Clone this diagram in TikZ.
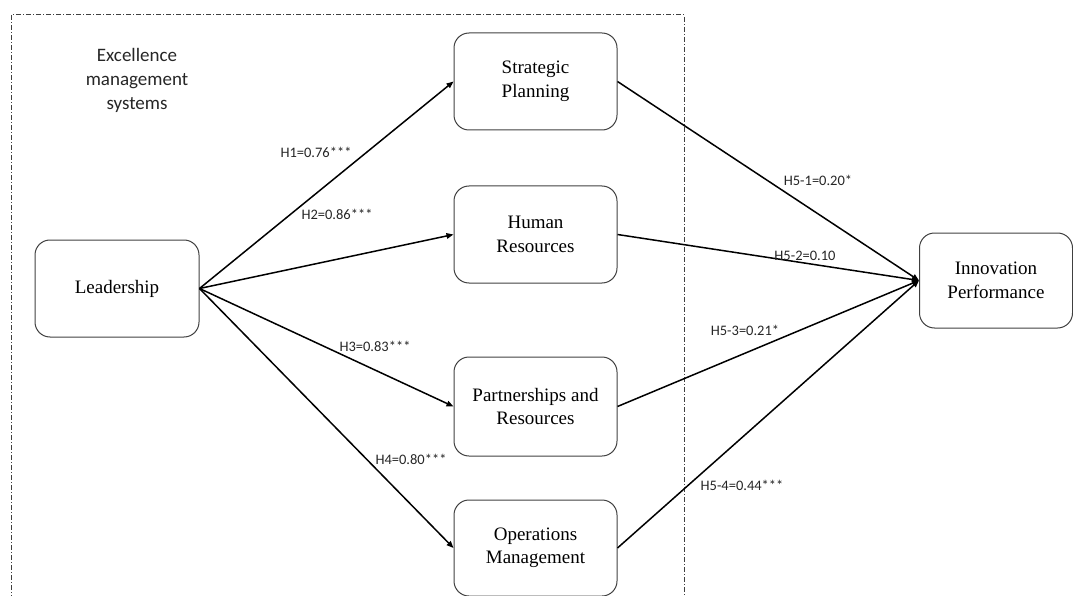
\documentclass[tikz,border=0pt]{standalone}
\usepackage{fontspec}
\setmainfont{Liberation Serif}
\newfontfamily\lblfont{Carlito}
\usetikzlibrary{arrows.meta}
\begin{document}
\begin{tikzpicture}[x=1pt,y=-1pt,
  box/.style={draw=black!75, line width=1pt, rounded corners=15pt, align=center,
    minimum width=163pt, minimum height=97pt, inner sep=0pt,
    font=\fontsize{19}{23.5}\selectfont},
  conn/.style={line width=1.5pt, -{Triangle[length=7pt,width=5.5pt]}},
  lbl/.style={font=\lblfont\fontsize{14.5}{17}\selectfont, text=black!85, inner sep=0pt},
  frame/.style={draw=black!75, line width=1pt, dash pattern=on 5pt off 2pt on 1pt off 2pt}]
\useasboundingbox (0,0) rectangle (1073,596);
\draw[frame] (11,600) -- (11,15) -- (684,15) -- (684,600);
\node[font=\lblfont\fontsize{19}{24}\selectfont, align=center, text=black!85] (ems) at (137,80) {Excellence\\management\\systems};
\node[box, minimum width=164pt] (lead) at (117,288.5) {Leadership};
\node[box] (sp) at (535.5,81.5) {Strategic\\Planning};
\node[box] (hr) at (535.5,234.5) {Human\\Resources};
\node[box, minimum height=99pt] (pr) at (535.5,406.5) {Partnerships and\\Resources};
\node[box, minimum height=96pt] (om) at (535.5,548) {Operations\\Management};
\node[box, minimum width=153pt, minimum height=95pt] (ip) at (996,280.5) {Innovation\\Performance};
\draw[conn] (lead.east) -- (sp.west);
\draw[conn] (lead.east) -- (hr.west);
\draw[conn] (lead.east) -- (pr.west);
\draw[conn] (lead.east) -- (om.west);
\draw[conn] (sp.east) -- (ip.west);
\draw[conn] (hr.east) -- (ip.west);
\draw[conn] (pr.east) -- (ip.west);
\draw[conn] (om.east) -- (ip.west);
\node[lbl] (l1) at (316,152) {H1=0.76***};
\node[lbl] (l2) at (337,214) {H2=0.86***};
\node[lbl] (l3) at (375,346) {H3=0.83***};
\node[lbl] (l4) at (411,459) {H4=0.80***};
\node[lbl] (l51) at (818,180) {H5-1=0.20*};
\node[lbl] (l52) at (805,256) {H5-2=0.10};
\node[lbl] (l53) at (745,330) {H5-3=0.21*};
\node[lbl] (l54) at (742,485) {H5-4=0.44***};
\end{tikzpicture}
\end{document}
